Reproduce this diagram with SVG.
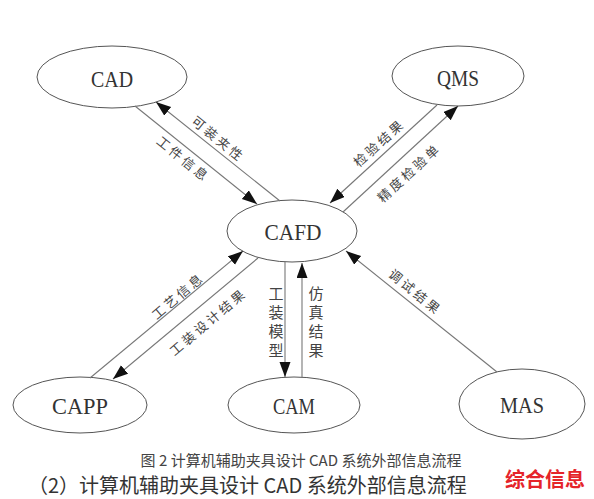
<svg xmlns="http://www.w3.org/2000/svg" width="594" height="499" viewBox="0 0 594 499">
<defs>
<marker id="ah" markerUnits="userSpaceOnUse" markerWidth="16" markerHeight="12" refX="15" refY="5.5" orient="auto">
<path d="M0,0 L15,5.5 L0,11 z" fill="#111"/>
</marker>
<style>
.node ellipse{fill:#fff;stroke:#555;stroke-width:1}
.node text{font-family:"Liberation Serif",serif;font-size:23px;fill:#333;text-anchor:middle}
.conn line{stroke:#777;stroke-width:1.1;marker-end:url(#ah)}
.lbl{font-family:"Noto Sans CJK SC",sans-serif;font-size:13px;fill:#444;text-anchor:middle;dominant-baseline:central;letter-spacing:3px}
.vl{font-family:"Noto Sans CJK SC",sans-serif;font-size:15px;fill:#444;text-anchor:middle;dominant-baseline:central}
</style>
</defs>
<rect width="594" height="499" fill="#fff"/>
<g id="CAD" class="node"><ellipse cx="112" cy="77" rx="75" ry="31"/><text x="112" y="87" textLength="42" lengthAdjust="spacingAndGlyphs">CAD</text></g>
<g id="QMS" class="node"><ellipse cx="458" cy="76" rx="66" ry="30"/><text x="458" y="86" textLength="42" lengthAdjust="spacingAndGlyphs">QMS</text></g>
<g id="CAFD" class="node"><ellipse cx="292" cy="231" rx="65" ry="31"/><text x="293" y="240" textLength="57" lengthAdjust="spacingAndGlyphs">CAFD</text></g>
<g id="CAPP" class="node"><ellipse cx="80" cy="405" rx="67" ry="28"/><text x="80" y="414" textLength="56" lengthAdjust="spacingAndGlyphs">CAPP</text></g>
<g id="CAM" class="node"><ellipse cx="294" cy="405" rx="66" ry="28"/><text x="294" y="414" textLength="42" lengthAdjust="spacingAndGlyphs">CAM</text></g>
<g id="MAS" class="node"><ellipse cx="522" cy="404" rx="63" ry="35"/><text x="522" y="413" textLength="44" lengthAdjust="spacingAndGlyphs">MAS</text></g>
<g id="connectors" class="conn">
<line x1="280" y1="201" x2="156" y2="102"/>
<line x1="135" y1="106" x2="257" y2="204"/>
<line x1="437" y1="105" x2="330" y2="203"/>
<line x1="343" y1="212" x2="458" y2="106"/>
<line x1="90" y1="378" x2="243" y2="251"/>
<line x1="258" y1="258" x2="113" y2="379"/>
<line x1="285" y1="262" x2="285" y2="377"/>
<line x1="302" y1="377" x2="302" y2="263"/>
<line x1="497" y1="372" x2="346" y2="251"/>
</g>
<g id="labels">
<text class="lbl" x="219" y="138" transform="rotate(39 218 138)">可装夹性</text>
<text class="lbl" x="184" y="158" transform="rotate(39 183 158)">工件信息</text>
<text class="lbl" x="379" y="143" transform="rotate(-42 378 143)">检验结果</text>
<text class="lbl" x="409" y="173" transform="rotate(-42 408 173)">精度检验单</text>
<text class="lbl" x="178" y="296" transform="rotate(-40 177 296)">工艺信息</text>
<text class="lbl" x="208" y="322" transform="rotate(-40 207 322)">工装设计结果</text>
<text class="lbl" x="416" y="291" transform="rotate(39 415 291)">调试结果</text>
<text class="vl"><tspan x="276" y="292">工</tspan><tspan x="276" y="311">装</tspan><tspan x="276" y="330">模</tspan><tspan x="276" y="349">型</tspan></text>
<text class="vl"><tspan x="316" y="292">仿</tspan><tspan x="316" y="311">真</tspan><tspan x="316" y="330">结</tspan><tspan x="316" y="349">果</tspan></text>
</g>
<text x="301" y="466" font-family="Noto Sans CJK SC,sans-serif" font-size="15" fill="#444" text-anchor="middle">图 2 计算机辅助夹具设计 CAD 系统外部信息流程</text>
<text x="28" y="493" font-family="Noto Sans CJK SC,sans-serif" font-size="20" fill="#333">（2）计算机辅助夹具设计 CAD 系统外部信息流程</text>
<text x="505" y="487" font-family="Noto Sans CJK SC,sans-serif" font-size="20" font-weight="bold" fill="#e5242a">综合信息</text>
</svg>
